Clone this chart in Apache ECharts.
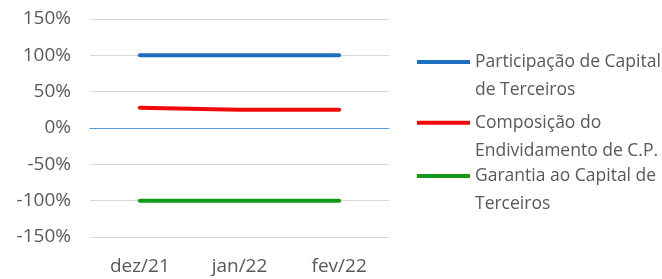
<!DOCTYPE html>
<html>
<head>
<meta charset="utf-8">
<script src="https://cdn.jsdelivr.net/npm/echarts@6/dist/echarts.min.js"></script>
<style>html,body{margin:0;padding:0;background:#fff;}#c{width:662px;height:279px;}</style>
</head>
<body>
<div id="c"></div>
<script>
const categories = ['dez/21', 'jan/22', 'fev/22'];
const participacao = [100, 100, 100];
const composicao = [28, 25, 25];
const garantia = [-100, -100, -100];
const seriesNames = ['Participação de Capital\nde Terceiros', 'Composição do\nEndividamento de C.P.', 'Garantia ao Capital de\nTerceiros'];
const yTicks = [-150, -100, -50, 0, 50, 100, 150];

const colors = ['#1c6fc0', '#f20a0a', '#119a1a'];
const font = '"Open Sans", sans-serif';
const chart = echarts.init(document.getElementById('c'));

function legendFor(i, top) {
  return {
    data: [seriesNames[i]],
    left: 417, top: top, padding: 0, orient: 'vertical',
    itemWidth: 53, itemHeight: 4, itemGap: 0,
    icon: 'rect',
    formatter: name => ' \n' + name,
    textStyle: { fontFamily: font, fontSize: 17.5, color: '#595959', lineHeight: 28 },
    selectedMode: false
  };
}

chart.setOption({
  backgroundColor: '#fff',
  animation: false,
  color: colors,
  grid: { left: 90, right: 273, top: 19, bottom: 42, containLabel: false },
  legend: [legendFor(0, 20), legendFor(1, 80.7), legendFor(2, 134)],
  xAxis: {
    type: 'category', data: categories, boundaryGap: true,
    axisLine: { onZero: true, lineStyle: { color: '#5b9bd5', width: 1 } },
    axisTick: { show: false },
    axisLabel: { fontFamily: font, fontSize: 19, color: '#595959', margin: 20 },
    splitLine: { show: false }
  },
  yAxis: {
    type: 'value', min: yTicks[0], max: yTicks[yTicks.length - 1], interval: 50,
    axisLine: { show: false }, axisTick: { show: false },
    axisLabel: { fontFamily: font, fontSize: 19, color: '#595959', margin: 19, formatter: v => v + '%' },
    splitLine: { lineStyle: { color: '#d9d9d9', width: 1 } }
  },
  series: [
    { name: seriesNames[0], type: 'line', data: participacao, showSymbol: false, symbol: 'none', lineStyle: { width: 4, cap: 'round' } },
    { name: seriesNames[1], type: 'line', data: composicao, showSymbol: false, symbol: 'none', lineStyle: { width: 4, cap: 'round' } },
    { name: seriesNames[2], type: 'line', data: garantia, showSymbol: false, symbol: 'none', lineStyle: { width: 4, cap: 'round' } }
  ]
});
</script>
</body>
</html>
